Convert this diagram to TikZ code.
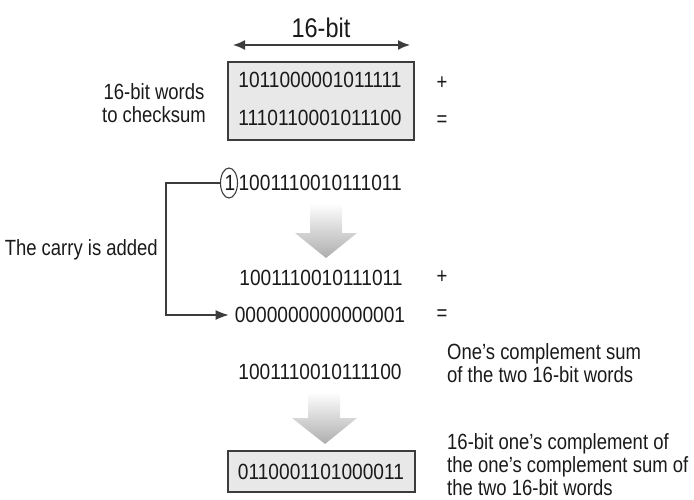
\documentclass[tikz,border=0pt]{standalone}
\usepackage{fontspec}
\setmainfont{Liberation Sans}[FakeStretch=0.84]
\newfontfamily\digitfont{Liberation Sans}[FakeStretch=0.87]
\usetikzlibrary{arrows.meta,shapes.geometric}
\definecolor{boxfill}{HTML}{E8E8E8}
\definecolor{ink}{HTML}{1A1A1A}
\begin{document}
\begin{tikzpicture}[x=1pt,y=-1pt,
  txt/.style={font=\fontsize{22}{23}\selectfont, inner sep=0pt, text=ink},
  bits/.style={font=\digitfont\fontsize{22}{23}\selectfont, inner sep=0pt, text=ink},
  wordbox/.style={draw=ink!85, fill=boxfill, line width=1.3pt},
  garrow/.style={top color=white, bottom color=black!32, draw=none},
  conn/.style={draw=ink!85, line width=1.3pt}]
\useasboundingbox (0,0) rectangle (694,500);
% title and width arrow
\node[txt, font=\digitfont\fontsize{27}{30}\selectfont] (title) at (321,28) {16-bit};
\coordinate (aL) at (233,45);
\coordinate (aR) at (410,45);
\draw[conn, line width=1.6pt, {Latex[length=12pt,width=10pt]}-{Latex[length=12pt,width=10pt]}] (aL) -- (aR);
% first box
\draw[wordbox] (228,62) rectangle (414,140);
\node[bits] (w1) at (320,80) {1011000001011111};
\node[bits] (w2) at (320,118) {1110110001011100};
\node[txt] (p1) at (442,83) {+};
\node[txt] (e1) at (442,121) {=};
\node[txt, align=center] (lbl1) at (154,103) {16-bit words\\to checksum};
% carry row
\node[bits, anchor=east] (w3) at (402,183) {1001110010111011};
\node[bits] (one) at (230,183) {1};
\node[draw=ink!85, line width=1.1pt, ellipse, minimum width=17pt, minimum height=30pt, inner sep=0pt] (circ) at (229,183) {};
% grey arrow 1
\shade[garrow] (310,203) -- (342,203) -- (342,233) -- (357,233) -- (326,258) -- (295,233) -- (310,233) -- cycle;
% second addition
\node[bits] (w4) at (321,278) {1001110010111011};
\node[bits] (w5) at (320,315) {0000000000000001};
\node[txt] (p2) at (442,277) {+};
\node[txt] (e2) at (442,315) {=};
\node[txt, anchor=east] (lbl2) at (158,250) {The carry is added};
\coordinate (k) at (166,183);
\draw[conn, -{Latex[length=13pt,width=10pt]}] (circ.west) -- (k) |- ([xshift=-6pt]w5.west);
% sum
\node[bits] (w6) at (320,372) {1001110010111100};
\node[txt, anchor=west, align=left] (lbl3) at (447,363) {One’s complement sum\\of the two 16-bit words};
% grey arrow 2
\shade[garrow] (308,392) -- (340,392) -- (340,418) -- (357,418) -- (325,444) -- (292,418) -- (308,418) -- cycle;
% result box
\draw[wordbox] (228,451) rectangle (415,492);
\node[bits] (w7) at (321,472) {0110001101000011};
\node[txt, anchor=west, align=left] (lbl4) at (447,465) {16-bit one’s complement of\\the one’s complement sum of\\the two 16-bit words};
\end{tikzpicture}
\end{document}
